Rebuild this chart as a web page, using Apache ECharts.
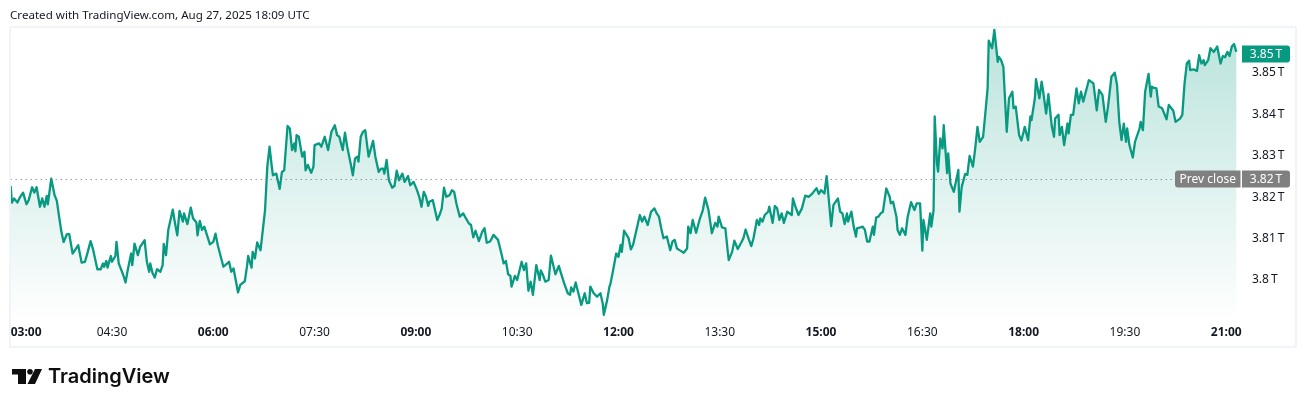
<!DOCTYPE html>
<html><head><meta charset="utf-8">
<style>html,body{margin:0;padding:0;background:#fff}#c{width:1306px;height:407px}</style>
<script src="https://cdn.jsdelivr.net/npm/echarts@6/dist/echarts.min.js"></script>
</head><body><div id="c"></div>
<script>
// Minutes since 03:00
const minutes=[0,1,3,4,6,8,11,14,16,17,19,21,23,26,28,30,32,33,36,39,41,43,45,47,50,52,55,58,60,63,66,68,71,73,77,80,82,83,85,86,89,90,93,94,96,100,102,104,107,108,110,113,115,119,121,123,124,126,128,130,133,135,136,138,140,144,146,148,150,153,154,157,160,162,165,166,168,170,172,177,180,182,184,189,190,194,196,198,202,204,208,210,211,214,215,217,219,222,223,226,228,230,232,233,236,239,241,243,246,248,250,252,253,254,256,259,261,262,264,267,269,270,274,276,279,282,285,288,290,292,295,297,299,302,304,306,308,309,311,313,315,318,322,324,327,329,331,332,334,336,339,341,343,345,348,350,353,355,358,361,363,365,367,369,371,
372,375,378,379,381,383,385,387,390,392,394,396,397,399,402,407,409,411,413,416,419,421,423,426,429,433,436,438,440,442,444,445,448,450,454,456,458,460,462,464,467,468,470,471,473,475,478,480,481,484,487,489,492,495,497,498,500,502,504,507,510,512,514,515,518,521,524,526,527,530,532,533,535,538,540,542,543,545,546,549,551,553,557,559,561,563,566,569,572,574,576,578,580,583,586,588,590,592,595,598,601,602,604,606,609,612,615,617,620,623,624,626,628,629,632,635,637,638,641,643,646,649,651,653,656,658,660,663,665,666,668,670,673,674,677,679,681,683,685,687,690,694,695,697,700,703,706,709,712,716,718,720,723,725,726,729,731,735,737,739,741,743,744,747,749,751,752,
755,757,759,761,763,766,767,769,771,773,775,778,781,782,784,787,788,790,792,795,797,800,803,805,808,810,811,812,814,817,818,820,821,823,824,826,828,829,832,833,835,838,842,843,845,848,850,852,855,857,859,861,864,866,868,869,872,874,877,878,880,882,885,887,890,891,893,896,898,900,901,904,906,907,910,911,914,916,917,920,922,923,925,927,928,931,932,934,936,939,940,942,944,947,949,951,953,958,962,965,967,970,973,975,978,981,983,985,987,989,991,992,994,997,999,1003,1004,1006,1008,1011,1013,1014,1016,1018,1020,1023,1025,1027,1029,1033,1035,1039,1041,1043,1045,1047,1048,1051,1054,1056,1058,1060,1061,1064,1066,1069,1072,1075,1077,1079,1081,1083,1085,1087,1089];
// Market cap, in billions of USD
const capB=[3822.7,3818.7,3819.7,3819.9,3818.7,3819.9,3821.1,3818.3,3819.3,3819.1,3822.4,3821.1,3822.4,3817.7,3819.7,3817.7,3820.3,3818.3,3824.5,3820.5,3819.1,3815.3,3811.7,3809.2,3811.1,3811.1,3806.4,3807.6,3808.4,3804.2,3804.4,3806.3,3809.4,3807.6,3802.6,3802.6,3804.0,3803.2,3804.6,3803.0,3805.8,3804.4,3805.8,3809.2,3804.0,3801.2,3799.4,3802.4,3806.4,3803.6,3808.8,3806.0,3808.0,3809.6,3804.4,3802.0,3804.0,3801.7,3800.6,3802.6,3802.0,3803.6,3808.7,3806.0,3812.1,3817.0,3813.7,3810.8,3816.7,3814.1,3816.1,3813.5,3817.5,3814.9,3813.9,3810.8,3814.3,3812.1,3812.9,3808.6,3809.2,3811.2,3808.4,3803.2,3803.6,3804.4,3802.0,3802.8,3797.0,3798.8,3799.7,3803.4,3805.8,3803.0,3806.8,3805.2,3809.1,3807.2,3807.6,3816.9,3827.4,3832.2,3827.4,3825.3,3825.7,3822.0,3826.1,3826.5,3837.2,3836.6,3831.4,3833.0,3831.1,3835.0,3834.6,3829.8,3831.0,3826.5,3827.8,3825.9,3827.4,3832.6,3833.0,3832.2,3834.6,3831.4,3835.8,3837.4,3835.0,3834.6,3831.4,3835.6,3832.2,3828.2,3825.3,3829.4,3829.8,3828.6,3834.6,3835.8,3836.2,3829.8,3833.6,3829.8,3826.1,3826.9,3826.9,3825.7,3829.0,3824.1,3822.3,3822.7,3826.4,3824.1,3825.7,3823.7,3825.1,3822.9,3823.7,3821.7,3820.1,3817.7,3821.3,3820.1,3817.9,
3818.9,3819.3,3815.7,3814.5,3815.7,3817.3,3822.3,3820.1,3820.5,3821.7,3821.3,3818.5,3818.9,3815.3,3816.1,3813.7,3813.3,3810.3,3811.9,3809.4,3811.7,3812.5,3809.0,3809.3,3810.9,3809.7,3806.4,3804.0,3804.6,3801.4,3801.0,3798.4,3801.0,3800.0,3804.4,3802.4,3804.0,3797.4,3799.6,3796.4,3803.6,3804.0,3800.0,3802.3,3801.2,3799.6,3800.0,3805.9,3805.6,3801.4,3803.4,3801.6,3799.0,3796.8,3796.4,3798.2,3797.2,3799.4,3797.2,3794.0,3796.8,3794.4,3794.5,3798.4,3796.8,3796.0,3796.8,3794.4,3791.6,3795.2,3798.4,3799.2,3802.0,3806.4,3805.6,3808.5,3806.8,3811.9,3812.1,3810.1,3807.4,3808.5,3813.3,3815.7,3814.1,3815.3,3813.3,3816.5,3817.3,3816.1,3815.3,3812.5,3810.1,3810.5,3807.2,3809.3,3809.7,3807.6,3807.1,3806.6,3807.6,3812.9,3811.3,3814.5,3811.4,3814.5,3816.9,3819.9,3816.9,3811.3,3810.9,3813.8,3812.9,3815.3,3812.7,3812.5,3807.2,3804.8,3806.8,3809.5,3807.5,3809.0,3810.1,3812.2,3809.7,3808.2,3810.1,3814.5,3813.3,3814.9,3814.1,3815.7,3816.5,3817.7,3813.8,3817.9,3817.3,3814.5,3816.1,3813.8,3816.5,3815.7,3819.7,3817.9,3815.7,3817.3,3820.4,3820.1,3820.8,3822.2,3820.8,3821.7,3820.9,3825.1,3822.2,3813.0,3818.1,3819.7,3816.5,3816.1,3813.5,3816.1,3814.1,3816.5,3812.9,3810.5,3812.5,
3812.7,3812.9,3812.1,3809.3,3809.3,3812.9,3810.9,3815.1,3815.3,3816.1,3816.5,3822.1,3820.1,3818.5,3818.9,3815.3,3812.1,3810.9,3812.5,3810.9,3815.3,3818.8,3816.9,3818.5,3818.5,3807.1,3814.5,3814.1,3809.7,3816.1,3812.9,3816.9,3839.5,3828.2,3826.2,3834.2,3831.8,3837.4,3825.8,3830.6,3823.3,3821.3,3826.6,3816.5,3822.5,3825.6,3825.4,3830.0,3827.4,3831.8,3837.0,3833.4,3834.6,3840.3,3846.3,3857.8,3856.0,3860.4,3852.7,3853.9,3853.1,3851.5,3835.8,3843.9,3845.5,3841.5,3841.9,3835.0,3833.7,3835.8,3837.0,3833.8,3839.5,3838.6,3843.9,3848.5,3843.9,3847.9,3846.3,3840.2,3844.9,3844.9,3837.2,3834.6,3839.0,3839.9,3835.0,3837.0,3832.6,3837.8,3835.4,3839.9,3839.9,3846.3,3842.7,3845.5,3843.1,3848.3,3847.5,3841.0,3845.9,3844.7,3838.2,3841.9,3849.1,3850.1,3847.1,3838.2,3833.8,3837.8,3833.4,3836.6,3832.6,3829.6,3833.4,3836.6,3838.2,3836.2,3845.5,3849.8,3844.3,3846.7,3846.4,3846.3,3841.9,3841.5,3840.2,3838.8,3842.3,3840.9,3838.2,3839.0,3839.9,3847.5,3852.3,3853.0,3850.7,3850.9,3850.5,3854.3,3852.3,3853.1,3851.9,3853.1,3856.0,3855.1,3856.4,3852.3,3854.1,3853.8,3855.1,3854.1,3856.4,3857.0,3855.1];
const prevCloseB=3824.3;
const lastB=3854.6;
const prevCloseLabel='3.82\u2009T';
const lastLabel='3.85\u2009T';
const headerText='Created with TradingView.com, Aug 27, 2025 18:09 UTC';
const brand='TradingView';

const FONT='"Noto Sans"';
const chart=echarts.init(document.getElementById('c'),null,{renderer:'canvas'});
const pad=n=>String(n).padStart(2,'0');
function timeLabel(v){
  if(v%90!==0) return '';
  const total=180+v, h=Math.floor(total/60), m=total%60, s=pad(h)+':'+pad(m);
  return v%180===0?'{b|'+s+'}':'{n|'+s+'}';
}
function capLabel(v){
  if(v<3800||v>3850) return '';
  return String(+(v/1000).toFixed(2))+'\u2009T';
}
chart.setOption({
  animation:false,
  backgroundColor:'#fff',
  grid:{left:10.7,top:27.5,width:1226.3,height:293.9,containLabel:false},
  xAxis:{type:'value',min:0,max:1089.6,interval:90,
    axisLine:{show:false},axisTick:{show:false},splitLine:{show:false},
    axisLabel:{margin:5,alignMinLabel:'left',showMaxLabel:false,hideOverlap:false,formatter:timeLabel,
      rich:{b:{fontFamily:FONT,fontSize:12,fontWeight:'bold',color:'#131722'},
            n:{fontFamily:FONT,fontSize:12,color:'#131722'}}}},
  yAxis:{type:'value',position:'right',min:3790,max:3861,interval:10,scale:true,
    axisLine:{show:false},axisTick:{show:false},splitLine:{show:false},
    axisLabel:{margin:15,align:'left',padding:[2,0,0,0],fontFamily:FONT,fontSize:12,color:'#131722',formatter:capLabel}},
  series:[{type:'line',showSymbol:false,symbol:'none',smooth:false,clip:false,
    data:minutes.map((m,i)=>[m,capB[i]]),
    lineStyle:{color:'#089981',width:2.3,join:'round'},
    areaStyle:{origin:'start',opacity:1,color:{type:'linear',x:0,y:0,x2:0,y2:1,colorStops:[
      {offset:0,color:'rgba(8,153,129,0.28)'},{offset:1,color:'rgba(8,153,129,0.0)'}]}},
    markLine:{silent:true,symbol:'none',label:{show:false},animation:false,
      lineStyle:{type:[1,4],color:'#6a6d78',width:1},
      data:[{yAxis:prevCloseB}]}
  }]
});
const yOf=v=>chart.convertToPixel({yAxisIndex:0},v);
const yPrev=Math.round(yOf(prevCloseB)), yLast=Math.round(yOf(lastB));
function tag(x,y,w,text,fill,radius){
  return [{type:'rect',z:50,shape:{x:x,y:y-8.5,width:w,height:17,r:radius},style:{fill:fill}},
          {type:'text',z:51,style:{x:x+w/2,y:y+1,text:text,fill:'#fff',font:'12px '+FONT,align:'center',verticalAlign:'middle'}}];
}
chart.setOption({graphic:[
  {type:'text',z:50,style:{x:10,y:15.5,text:headerText,fill:'#131722',font:'11.6px '+FONT,verticalAlign:'middle'}},
  {type:'rect',z:40,shape:{x:10,y:27,width:1286,height:320},style:{fill:'none',stroke:'#f0f3fa',lineWidth:2}},
  ...tag(1175,yPrev,65.5,'Prev close','#808080',[3,0,0,3]),
  ...tag(1242,yPrev,48,prevCloseLabel,'#808080',[0,3,3,0]),
  ...tag(1242,yLast,48,lastLabel,'#089981',[0,3,3,0]),
  {type:'polygon',z:50,shape:{points:[[12,369],[26,369],[26,384],[18,384],[18,374.5],[12,374.5]]},style:{fill:'#0f0f0f'}},
  {type:'circle',z:50,shape:{cx:30,cy:371.8,r:2.8},style:{fill:'#0f0f0f'}},
  {type:'polygon',z:50,shape:{points:[[35,369],[42,369],[35,384],[27.5,384]]},style:{fill:'#0f0f0f'}},
  {type:'text',z:50,style:{x:48,y:377,text:brand,fill:'#0f0f0f',font:'600 20px Inter',verticalAlign:'middle'}}
]});
</script></body></html>
